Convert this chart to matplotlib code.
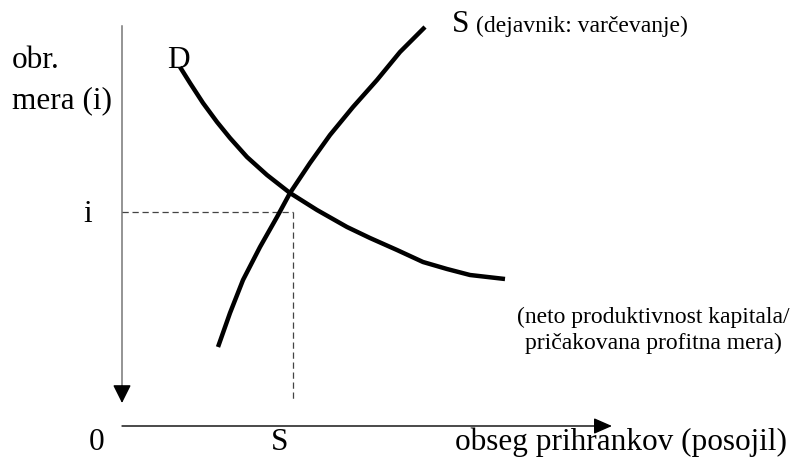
import matplotlib.pyplot as plt

# Loanable funds diagram: D (neto produktivnost kapitala) and S (varcevanje)
# values, origin at the crossing of the two axes
D_q = [58, 68, 81, 95, 108, 125, 145, 168, 195, 225, 248, 275, 301, 325, 348, 383]
D_i = [359, 343, 323, 304, 288, 269, 251, 233, 216, 199, 188, 176, 164, 157, 151, 147]

S_q = [96, 108, 121, 138, 155, 168, 188, 208, 231, 255, 278, 303]
S_i = [79, 113, 146, 179, 209, 233, 263, 291, 319, 346, 374, 399]

i_level = 214
s_level = 171

y_top = 400
y_tip = 23
x_tip = 490

plt.rcParams['font.family'] = ['Liberation Serif', 'DejaVu Serif']

fig = plt.figure(figsize=(7.93, 4.61), dpi=100)
ax = fig.add_axes([0, 0, 1, 1])
ax.set_xlim(-122, 671)
ax.set_ylim(-35, 426)
ax.axis('off')

# vertical axis (arrow points down)
ax.plot([0, 0], [y_top, y_tip + 10], color='#777777', lw=1.1)
ax.annotate('', xy=(0, y_tip), xytext=(0, y_tip + 17),
            arrowprops=dict(arrowstyle='-|>,head_length=0.8,head_width=0.4',
                            mutation_scale=14, color='black', lw=1,
                            shrinkA=0, shrinkB=0))
# horizontal axis
ax.annotate('', xy=(x_tip, 0), xytext=(0, 0),
            arrowprops=dict(arrowstyle='-|>,head_length=0.8,head_width=0.35',
                            mutation_scale=14, color='black', lw=1,
                            shrinkA=0, shrinkB=0))

# dashed guides
ax.plot([0, s_level], [i_level, i_level], color='#444444', lw=0.9, ls=(0, (5, 3)))
ax.plot([s_level, s_level], [i_level, 26], color='#444444', lw=0.9, ls=(0, (5, 3)))

# curves
ax.plot(D_q, D_i, color='black', lw=3.2, solid_capstyle='butt', solid_joinstyle='round')
ax.plot(S_q, S_i, color='black', lw=3.2, solid_capstyle='butt', solid_joinstyle='round')

big = 22.5
small = 17
ax.text(-110, 358, 'obr.', fontsize=big, va='baseline')
ax.text(-110, 318, 'mera (i)', fontsize=big, va='baseline')
ax.text(-34, i_level - 10, 'i', fontsize=big, va='baseline', ha='center')
ax.text(45, 358, 'D', fontsize=big, va='baseline')
ax.text(330, 394, 'S', fontsize=big, va='baseline')
ax.text(354, 394, '(dejavnik: varčevanje)', fontsize=small, va='baseline')
ax.text(531, 103, '(neto produktivnost kapitala/', fontsize=small,
        va='baseline', ha='center')
ax.text(531, 77, 'pričakovana profitna mera)', fontsize=small,
        va='baseline', ha='center')
ax.text(-25, -24, '0', fontsize=big, va='baseline', ha='center')
ax.text(158, -24, 'S', fontsize=big, va='baseline', ha='center')
ax.text(333, -24, 'obseg prihrankov (posojil)', fontsize=big, va='baseline')

fig.savefig('out.png', dpi=100)
